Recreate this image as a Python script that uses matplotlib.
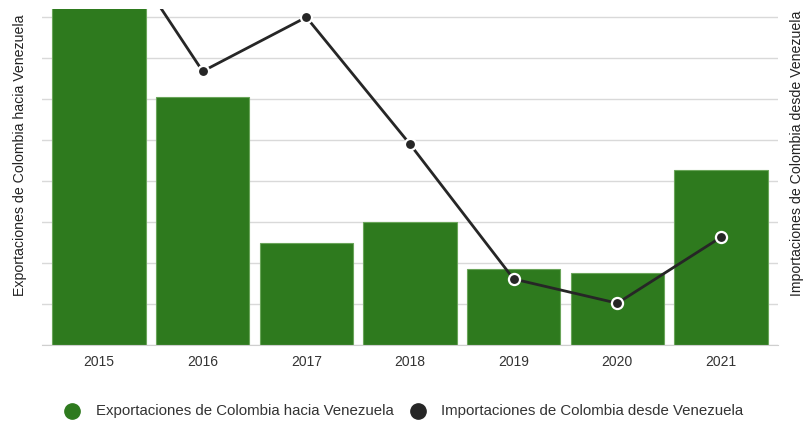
import matplotlib
matplotlib.use('Agg')
import matplotlib.pyplot as plt

plt.rcParams['font.family'] = ['Liberation Sans', 'DejaVu Sans']

years = ['2015', '2016', '2017', '2018', '2019', '2020', '2021']
# values, in gridline units (no tick labels shown)
exportaciones = [9.6, 6.05, 2.5, 3.0, 1.85, 1.76, 4.27]
importaciones = [10.5, 6.68, 8.0, 4.9, 1.61, 1.02, 2.63]

green = '#2e7a1e'
dark = '#262626'

fig = plt.figure(figsize=(8.07, 4.21), dpi=100)
ax = fig.add_axes([42 / 807, 76 / 421, 736 / 807, 336 / 421])
x = range(len(years))

ax.bar(x, exportaciones, width=0.9, color=green, edgecolor='#6aa55a', linewidth=0.8, zorder=2)
ax.set_xlim(-0.55, 6.55)
ax.set_ylim(0, 8.2)
ax.set_yticks(range(0, 9))
ax.set_yticklabels([])
ax.tick_params(axis='y', length=0)
ax.grid(axis='y', color='#d9d9d9', linewidth=1, zorder=0)
ax.set_axisbelow(True)
for s in ['top', 'right', 'left']:
    ax.spines[s].set_visible(False)
ax.spines['bottom'].set_color('#cfcfcf')
ax.set_xticks(list(x))
ax.set_xticklabels(years, fontsize=10, color='#333333')
ax.tick_params(axis='x', length=0, pad=7)

ax2 = ax.twinx()
ax2.set_ylim(0, 8.2)
ax2.set_yticks([])
for s in ax2.spines.values():
    s.set_visible(False)
ax2.plot(x, importaciones, color=dark, linewidth=2, marker='o', markersize=8,
         markerfacecolor=dark, markeredgecolor='white', markeredgewidth=1.6, zorder=3)

# axis titles
fig.text(20 / 807, 1 - 296 / 421, 'Exportaciones de Colombia hacia Venezuela',
         rotation=90, ha='center', va='bottom', fontsize=10.2, color='#222222')
fig.text(797 / 807, 1 - 296 / 421, 'Importaciones de Colombia desde Venezuela',
         rotation=90, ha='center', va='bottom', fontsize=10.2, color='#222222')

# legend
fig.lines.append(plt.Line2D([72 / 807], [1 - 411 / 421], marker='o', markersize=11,
                            color=green, transform=fig.transFigure))
fig.text(96 / 807, 1 - 411 / 421, 'Exportaciones de Colombia hacia Venezuela',
         va='center', fontsize=10.8, color='#333333')
fig.lines.append(plt.Line2D([418 / 807], [1 - 411 / 421], marker='o', markersize=11,
                            color=dark, transform=fig.transFigure))
fig.text(441 / 807, 1 - 411 / 421, 'Importaciones de Colombia desde Venezuela',
         va='center', fontsize=10.8, color='#333333')

fig.savefig('out.png', dpi=100)
